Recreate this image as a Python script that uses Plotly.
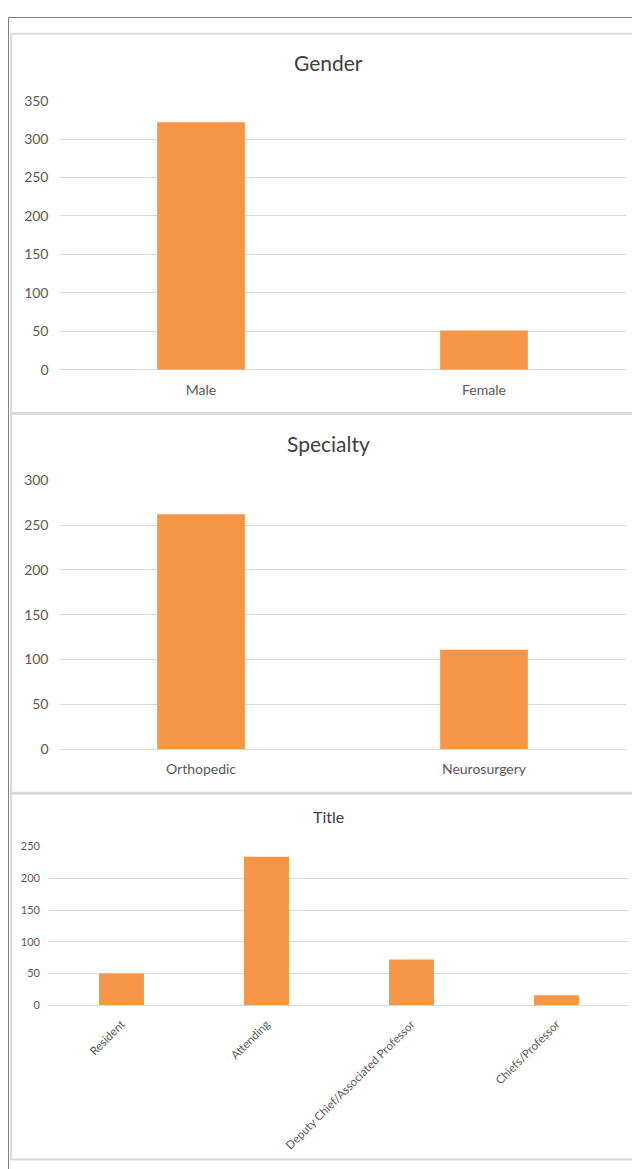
import plotly.graph_objects as go

# ---- data ----
gender_labels = ["Male", "Female"]
gender_counts = [322, 51]

specialty_labels = ["Orthopedic", "Neurosurgery"]
specialty_counts = [262, 111]

title_labels = ["Resident", "Attending", "Deputy Chief/Associated Professor", "Chiefs/Professor"]
title_counts = [50, 234, 72, 16]

# observed page placement of the figure in the photographed window
OFFX, OFFY, SY = 8, 16.5, 0.9865
W, H = 632, 1165
BAR = "#F79646"
GRID = "#D9D9D9"
TICKC = "#595959"
TITLEC = "#404040"
FONT = "Lato"


def fx(x):
    return (x - OFFX) / W


def fy(y):
    return 1 - (y / SY - OFFY) / H


fig = go.Figure()
fig.add_trace(go.Bar(x=gender_labels, y=gender_counts, marker=dict(color=BAR, line=dict(width=0)),
                     xaxis="x", yaxis="y", hoverinfo="x+y"))
fig.add_trace(go.Bar(x=specialty_labels, y=specialty_counts, marker=dict(color=BAR, line=dict(width=0)),
                     xaxis="x2", yaxis="y2", hoverinfo="x+y"))
fig.add_trace(go.Bar(x=title_labels, y=title_counts, marker=dict(color=BAR, line=dict(width=0)),
                     xaxis="x3", yaxis="y3", hoverinfo="x+y"))


def yax(anchor, dom, rng, size, standoff):
    return dict(anchor=anchor, domain=dom, range=rng, dtick=50, tick0=0,
                showgrid=True, gridcolor=GRID, gridwidth=1,
                zeroline=True, zerolinecolor=GRID, zerolinewidth=1,
                showline=False, ticks="", fixedrange=True,
                ticklabelstandoff=standoff,
                tickfont=dict(family=FONT, size=size, color=TICKC))


def xax(anchor, dom, size, angle=0, standoff=6):
    return dict(anchor=anchor, domain=dom, showgrid=False, zeroline=False,
                showline=False, ticks="", tickangle=angle, fixedrange=True,
                ticklabelstandoff=standoff,
                tickfont=dict(family=FONT, size=size, color=TICKC))


fig.update_layout(
    width=W, height=H,
    margin=dict(l=0, r=0, t=0, b=0),
    paper_bgcolor="white", plot_bgcolor="white",
    showlegend=False, bargap=0.69,
    font=dict(family=FONT),
    xaxis=xax("y", [fx(59.5), fx(625.5)], 14, 0, 10),
    yaxis=yax("x", [fy(369.3), fy(100)], [0, 350], 14, 10),
    xaxis2=xax("y2", [fx(59.5), fx(625.5)], 14, 0, 10),
    yaxis2=yax("x2", [fy(749.3), fy(480)], [0, 300], 14, 10),
    xaxis3=xax("y3", [fx(49), fx(629)], 11.5, -45, 9),
    yaxis3=yax("x3", [fy(1005.7), fy(846.7)], [0, 250], 11, 8),
)

shapes = []
# outer frame (its top edge sits at the very top of the figure)
shapes.append(dict(type="rect", xref="paper", yref="paper",
                   x0=fx(8.5), x1=fx(700), y0=1 - 0.5 / H, y1=-0.2,
                   line=dict(color="#7F7F7F", width=1), layer="below"))
# chart panels
for top, bot in [(33, 412.5), (413.5, 793), (794, 1160)]:
    shapes.append(dict(type="rect", xref="paper", yref="paper",
                       x0=fx(11), x1=fx(700), y0=fy(top), y1=fy(bot),
                       line=dict(color=GRID, width=2), layer="below"))
fig.update_layout(shapes=shapes)

annotations = [
    dict(text="Gender", x=fx(328), y=fy(62), size=21),
    dict(text="Specialty", x=fx(328), y=fy(443), size=21),
    dict(text="Title", x=fx(328), y=fy(817), size=16),
]
fig.update_layout(annotations=[
    dict(text=a["text"], x=a["x"], y=a["y"], xref="paper", yref="paper",
         xanchor="center", yanchor="middle", showarrow=False,
         font=dict(family=FONT, size=a["size"], color=TITLEC))
    for a in annotations
])

fig.write_html("out.html")
